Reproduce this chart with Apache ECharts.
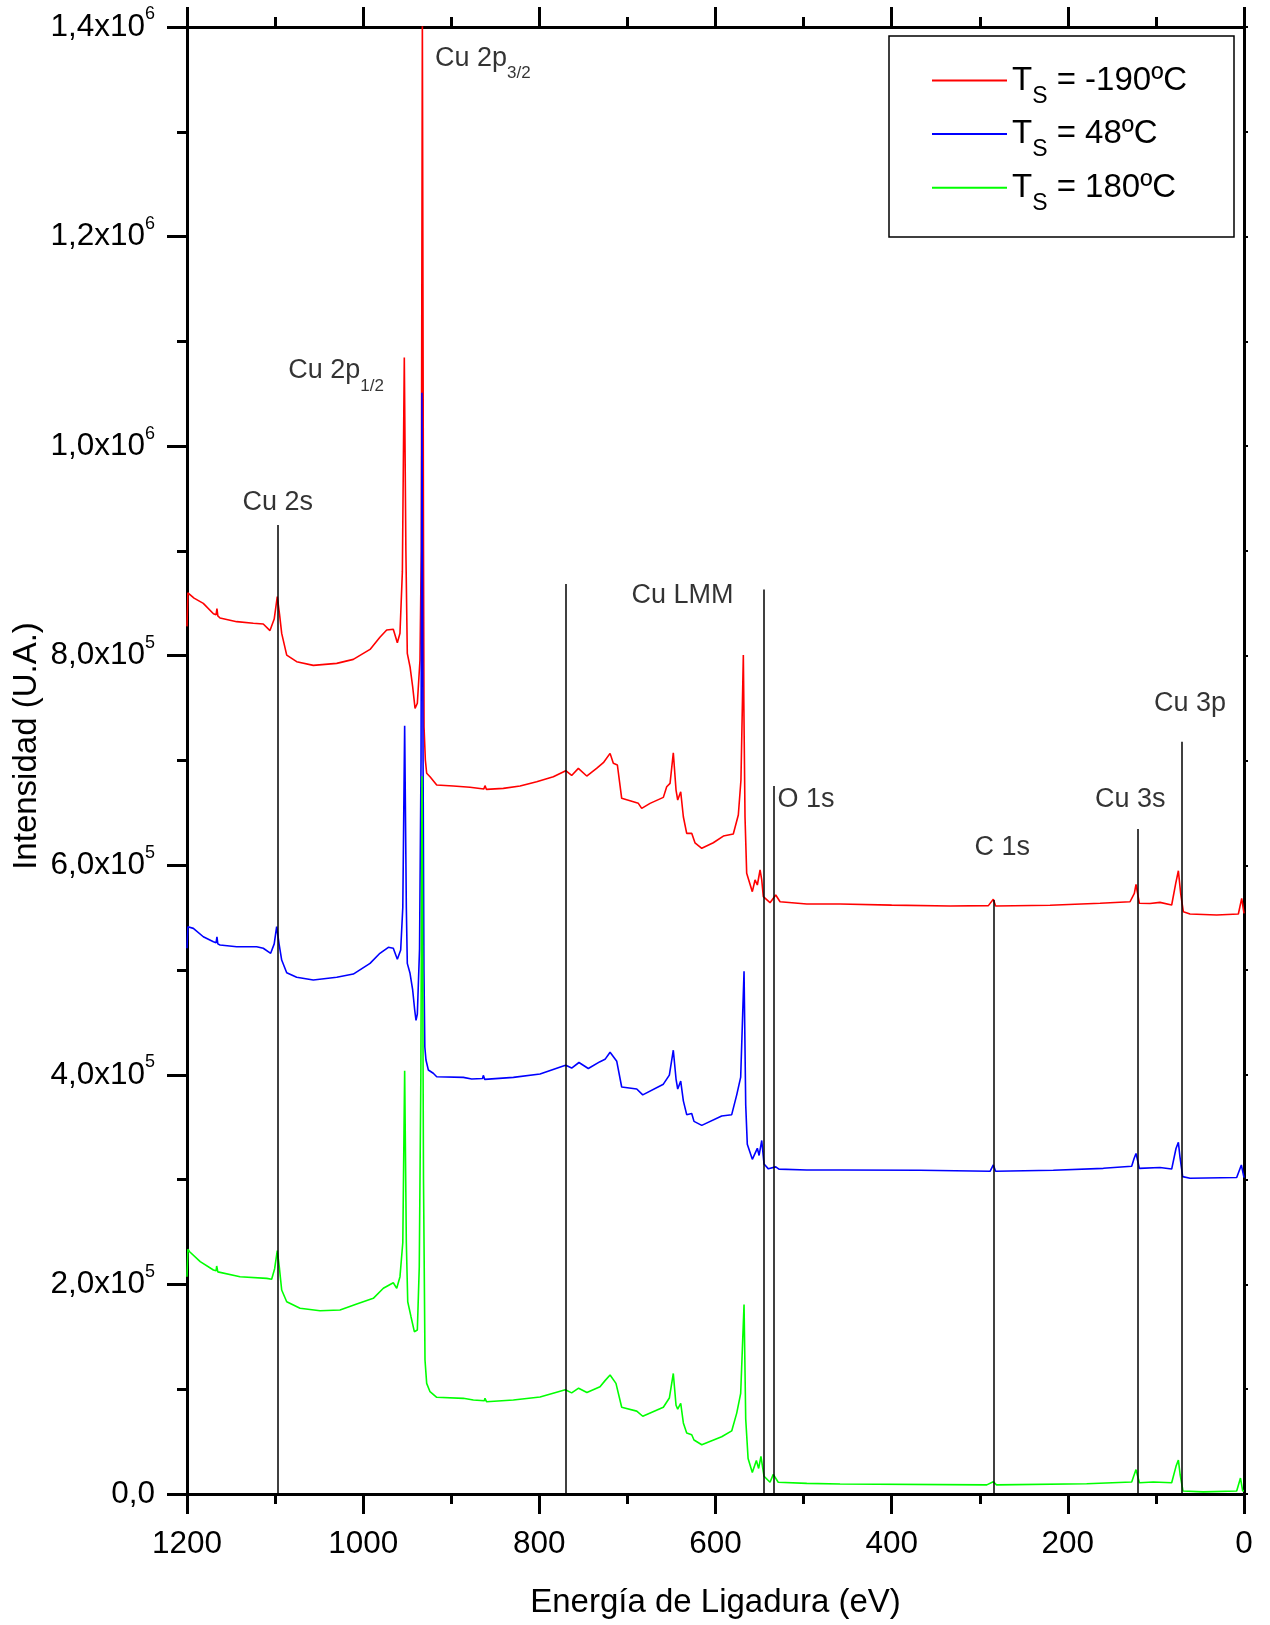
<!DOCTYPE html>
<html>
<head>
<meta charset="utf-8">
<script src="https://cdn.jsdelivr.net/npm/echarts@6/dist/echarts.min.js"></script>
<style>
html,body{margin:0;padding:0;background:#fff;}
#chart{width:1270px;height:1625px;}
</style>
</head>
<body>
<div id="chart"></div>
<script>
// ---------- DATA ----------
var seriesNames = ['Ts = -190ºC', 'Ts = 48ºC', 'Ts = 180ºC'];
var seriesTemps = ['-190ºC', '48ºC', '180ºC'];
var seriesColors = ['#ff0000', '#0000ff', '#00ff00'];

// [binding energy (eV), intensity (U.A.)]
var redSpectrum = [
 [1200,828000],[1199,860000],[1192,855000],[1181.5,850000],[1170,840000],[1167,839000],[1166,845000],[1165,838000],
 [1162.5,836000],[1143.6,832500],[1124.7,831000],[1113.4,830300],[1105.8,824000],[1101,835000],[1097.5,856300],
 [1095,840000],[1092.5,821300],[1086.8,800600],[1075.5,794300],[1056.6,790800],[1030,792700],[1011.2,796500],
 [992.2,806000],[981,817600],[973.3,824500],[965.8,825200],[961.2,812400],[958.2,821400],[955.5,880000],
 [953.3,1084500],[951.5,900000],[949.9,802300],[946.8,789500],[943.8,770400],[941.1,749800],[938.5,754600],
 [935.5,795900],[934,900000],[932.8,1410000],[931.5,900000],[930.9,732200],[929.4,700500],[927.9,687800],
 [924.1,684500],[916.5,676600],[897.7,675600],[878.7,674400],[863,672800],[861.7,676000],[860,672400],
 [840.9,673400],[821.9,675600],[803,679800],[784.1,684500],[770,690300],[763.3,685700],[755.7,692500],
 [746.2,685200],[735,692500],[727.3,697900],[719.7,706800],[716,697300],[711.4,695700],[706.5,663900],
 [697,661600],[687.6,659100],[683.8,654300],[674.3,659100],[659.2,664800],[655.4,675000],[651.6,678200],
 [647.9,707400],[644.8,671800],[642.9,662300],[639.5,670200],[636.5,646300],[632.7,630500],[627,630500],
 [623.3,621500],[615.6,616200],[602.5,621500],[591.1,627900],[579.8,629800],[574.1,648000],[571.1,681400],
 [568.4,800600],[566.5,646300],[564.6,592300],[558.2,574800],[555.1,586000],[552.5,581200],[549.4,595500],
 [547.5,586000],[545.7,570000],[538.1,564300],[531.6,571600],[526.7,565200],[496.4,563000],[458.6,563000],
 [400,562000],[333.7,561100],[290.2,561500],[284.6,567500],[282,561100],[220.2,561800],[163.4,563700],
 [129.4,565200],[124.5,573200],[122.6,581800],[118.8,563700],[106.7,563500],[95.4,564600],[82.1,562100],
 [77.5,582800],[74.5,594800],[71.9,573200],[68.9,555700],[61.3,553500],[31,552500],[6.4,553500],
 [2.6,568500],[0,554200]
];

var blueSpectrum = [
 [1200,520800],[1199,541400],[1192.8,539800],[1181.5,531800],[1170,527000],[1167,526000],[1166,531800],
 [1165,525000],[1162.5,523900],[1143.6,522300],[1120.9,522300],[1113.4,520800],[1105,516000],[1101,525000],
 [1098.2,541400],[1095.5,525000],[1092.5,509600],[1086.8,497500],[1075.5,493100],[1056.6,490500],[1030,493100],
 [1011.2,496200],[992.2,506400],[981,516000],[971.4,521700],[965.8,520800],[961.2,510300],[957.4,519100],
 [955,560000],[952.9,733200],[951,560000],[949.9,506400],[946.8,496900],[943.8,481000],[941.5,461900],
 [940,452000],[938.5,458000],[936,520000],[934.3,700000],[933.3,1051000],[932,700000],[931,500000],
 [930,426600],[928.7,414200],[926,404600],[920.4,401500],[916.5,398200],[886.3,397600],[876.8,396000],
 [864.5,396500],[863.6,399500],[862,395700],[829.5,397600],[799.2,400800],[772.8,408400],[770,409100],
 [763.3,406500],[755,411800],[744.4,406100],[731.1,412600],[725.4,414800],[719.7,421600],[712.1,412900],
 [706.5,388400],[689.4,386500],[682.6,380900],[659.2,391100],[652.4,399800],[647.9,423500],[644.8,396000],
 [642.9,386500],[639.5,394000],[636.5,375200],[632.7,362000],[627,363100],[624.4,355600],[615.6,351800],
 [593,360800],[581.6,362000],[575.9,380900],[571.4,397900],[567.6,498900],[565.7,371400],[563.9,333700],
 [558.2,319400],[552.5,329900],[550.5,323100],[547.5,337400],[544.9,314900],[540,310300],[531.6,312200],
 [528,310000],[496.4,309200],[458.6,309200],[367.8,309000],[288.3,308000],[284.6,314000],[282,308000],
 [216.5,309000],[159.7,310800],[127.5,312800],[124.9,319900],[122.6,325000],[118.8,310800],[95.4,311600],
 [82.1,310100],[77.2,329700],[74.5,335600],[72.7,321800],[69.6,302900],[61.3,301400],[8.3,302100],
 [3,314000],[0,302000]
];

var greenSpectrum = [
 [1200,207400],[1199,233500],[1197,231200],[1185,221700],[1170,213800],[1167,213000],[1166.3,217600],
 [1165,212000],[1163,210600],[1139.8,207400],[1109.5,205800],[1103.9,204900],[1100.5,215000],[1097.5,232200],
 [1095,215000],[1092.5,194700],[1086.8,183500],[1071.7,177200],[1049,174900],[1026.3,175600],[1007.3,181300],
 [988.5,186700],[977.1,196300],[965.8,201600],[961.9,196300],[958.2,207400],[955,240000],[952.9,404000],
 [951,240000],[949.4,183500],[945.7,169200],[941.9,154900],[938.5,156500],[936.3,216900],[934.5,400000],
 [933.2,685000],[931.5,300000],[929.8,127900],[927.9,105600],[924.1,97600],[916.5,92300],[886.3,91300],
 [874.9,89700],[862.5,89000],[861.7,91300],[860,88100],[829.5,89700],[799.2,92600],[770.5,99500],
 [763.3,96500],[755.4,101000],[746,96900],[731.1,102400],[725.4,108200],[719.7,113500],[713,105600],
 [706.5,82800],[689.4,79100],[682.6,74200],[659.2,82800],[652.4,91600],[647.9,115000],[644.8,84700],
 [642.9,81000],[639.5,86600],[636.5,67800],[632.7,58300],[627,56500],[624.4,51500],[615.6,47000],
 [593,54600],[581.6,60200],[575.9,77200],[571.4,96100],[567.6,180900],[565.7,71600],[563,33900],
 [558.2,20600],[553.6,32000],[551,24400],[548.4,35900],[544.9,16900],[538.1,11200],[534.4,18700],
 [528.8,11200],[496.4,10100],[458.6,9500],[292,8700],[284.6,11600],[281,8700],[178.6,9800],[127.5,11500],
 [122.6,23300],[118.8,10700],[103,11500],[82.1,10700],[77.2,26400],[74.5,32300],[72.5,18600],[69.3,2900],
 [46.2,2000],[8.3,2900],[4,15200],[1.5,3000],[0,3000]
];

// vertical reference lines: energy and top intensity
var markerEnergy = [1097, 770, 545.5, 533.5, 284, 120.3, 70.7];
var markerTop    = [924700, 868400, 863300, 675600, 566800, 634600, 717900];

// peak labels: main text, subscript, energy (left anchor), intensity (centre)
var peakMain   = ['Cu 2s', 'Cu 2p', 'Cu 2p', 'Cu LMM', 'O 1s', 'C 1s', 'Cu 3s', 'Cu 3p'];
var peakSub    = ['', '1/2', '3/2', '', '', '', '', ''];
var peakEnergy = [1136.9, 1085.1, 918.5, 695.5, 529.5, 305.9, 169.1, 102.1];
var peakInt    = [945700, 1071700, 1370000, 857500, 663200, 616500, 663200, 753900];

var xMin = 0, xMax = 1200, xStep = 200;
var yMin = 0, yMax = 1400000, yStep = 200000;

// ---------- CHART ----------
var FONT = '"Liberation Sans", Arial, sans-serif';
var chart = echarts.init(document.getElementById('chart'), null, {renderer: 'canvas'});

function yLabel(v) {
  if (v === 0) return '{m|0,0}';
  var exp = v >= 1e6 ? 6 : 5;
  var mant = (v / Math.pow(10, exp)).toFixed(1).replace('.', ',');
  return '{m|' + mant + 'x10}{e|' + exp + '}';
}

var tickStyle = {color: '#000', width: 3};

var seriesList = [redSpectrum, blueSpectrum, greenSpectrum].map(function (d, i) {
  return {
    type: 'line',
    name: seriesNames[i],
    data: d,
    showSymbol: false,
    symbol: 'none',
    clip: true,
    lineStyle: {color: seriesColors[i], width: 1.6},
    itemStyle: {color: seriesColors[i]},
    emphasis: {disabled: true},
    z: 2
  };
});

var markLines = markerEnergy.map(function (e, i) {
  return [{coord: [e, 0]}, {coord: [e, markerTop[i]]}];
});

seriesList.push({
  type: 'scatter',
  name: 'labels',
  symbolSize: 0,
  silent: true,
  z: 5,
  data: peakMain.map(function (t, i) {
    var txt = '{m|' + t + '}' + (peakSub[i] ? '{s|' + peakSub[i] + '}' : '');
    return {value: [peakEnergy[i], peakInt[i]], label: {formatter: txt}};
  }),
  label: {
    show: true,
    position: 'right',
    distance: 0,
    color: '#000',
    fontFamily: FONT,
    rich: {
      m: {fontSize: 27, lineHeight: 32, fontFamily: FONT, color: '#000'},
      s: {fontSize: 17, lineHeight: 32, fontFamily: FONT, color: '#000', padding: [30, 0, 0, 0]}
    }
  },
  markLine: {
    silent: true,
    symbol: ['none', 'none'],
    label: {show: false},
    lineStyle: {color: '#000', width: 1.5, type: 'solid'},
    emphasis: {disabled: true},
    z: 5,
    data: markLines
  }
});

var option = {
  backgroundColor: '#fff',
  animation: false,
  textStyle: {fontFamily: FONT},
  grid: {left: 187, top: 27, width: 1057, height: 1467, containLabel: false},
  legend: {
    data: seriesNames,
    orient: 'vertical',
    left: 932,
    top: 53,
    padding: 0,
    itemGap: -1.4,
    itemWidth: 75,
    itemHeight: 2,
    icon: 'rect',
    selectedMode: false,
    formatter: function (name) {
      var t = seriesTemps[seriesNames.indexOf(name)];
      return '{t|T}{s|S}{t| = ' + t + '}';
    },
    textStyle: {
      color: '#000',
      fontFamily: FONT,
      rich: {
        t: {fontSize: 33, lineHeight: 40, fontFamily: FONT, color: '#000'},
        s: {fontSize: 23, lineHeight: 40, fontFamily: FONT, color: '#000', padding: [32, 0, 0, 0]}
      }
    }
  },
  xAxis: [{
    type: 'value', min: xMin, max: xMax, interval: xStep, inverse: true, position: 'bottom',
    name: 'Energía de Ligadura (eV)', nameLocation: 'middle', nameGap: 92,
    nameTextStyle: {fontSize: 33, color: '#000', fontFamily: FONT},
    axisLine: {show: true, onZero: false, lineStyle: {color: '#000', width: 3}},
    axisTick: {show: true, inside: false, length: 20, lineStyle: tickStyle},
    minorTick: {show: true, splitNumber: 2, length: 10, lineStyle: tickStyle},
    axisLabel: {show: true, margin: 34, fontSize: 31.5, color: '#000', fontFamily: FONT,
                formatter: function (v) { return String(v); }},
    splitLine: {show: false}, minorSplitLine: {show: false}
  }, {
    type: 'value', min: xMin, max: xMax, interval: xStep, inverse: true, position: 'top',
    axisLine: {show: true, onZero: false, lineStyle: {color: '#000', width: 3}},
    axisTick: {show: true, inside: false, length: 20, lineStyle: tickStyle},
    minorTick: {show: true, splitNumber: 2, length: 10, lineStyle: tickStyle},
    axisLabel: {show: false},
    splitLine: {show: false}
  }],
  yAxis: [{
    type: 'value', min: yMin, max: yMax, interval: yStep, position: 'left',
    axisLine: {show: true, onZero: false, lineStyle: {color: '#000', width: 3}},
    axisTick: {show: true, inside: false, length: 20, lineStyle: tickStyle},
    minorTick: {show: true, splitNumber: 2, length: 10, lineStyle: tickStyle},
    axisLabel: {
      show: true, margin: 32, color: '#000', fontFamily: FONT,
      formatter: yLabel,
      rich: {
        m: {fontSize: 31.5, lineHeight: 34, fontFamily: FONT, color: '#000'},
        e: {fontSize: 18, lineHeight: 34, fontFamily: FONT, color: '#000', padding: [0, 0, 25, 0]}
      }
    },
    splitLine: {show: false}, minorSplitLine: {show: false}
  }, {
    type: 'value', min: yMin, max: yMax, interval: yStep, position: 'right',
    axisLine: {show: true, onZero: false, lineStyle: {color: '#000', width: 3}},
    axisTick: {show: true, inside: false, length: 4, lineStyle: {color: '#000', width: 2}},
    minorTick: {show: true, splitNumber: 2, length: 4, lineStyle: {color: '#000', width: 2}},
    axisLabel: {show: false},
    splitLine: {show: false}
  }],
  graphic: [
    {
      type: 'rect', z: 10, silent: true,
      shape: {x: 889, y: 36, width: 345, height: 201},
      style: {fill: 'rgba(0,0,0,0)', stroke: '#000', lineWidth: 1.5}
    },
    {
      type: 'text', z: 10, silent: true,
      x: 27, y: 746, rotation: Math.PI / 2,
      style: {text: 'Intensidad (U.A.)', fontSize: 33, fontFamily: FONT, fill: '#000',
              textAlign: 'center', textVerticalAlign: 'middle', align: 'center', verticalAlign: 'middle'}
    }
  ],
  series: seriesList
};

chart.setOption(option);
</script>
</body>
</html>
